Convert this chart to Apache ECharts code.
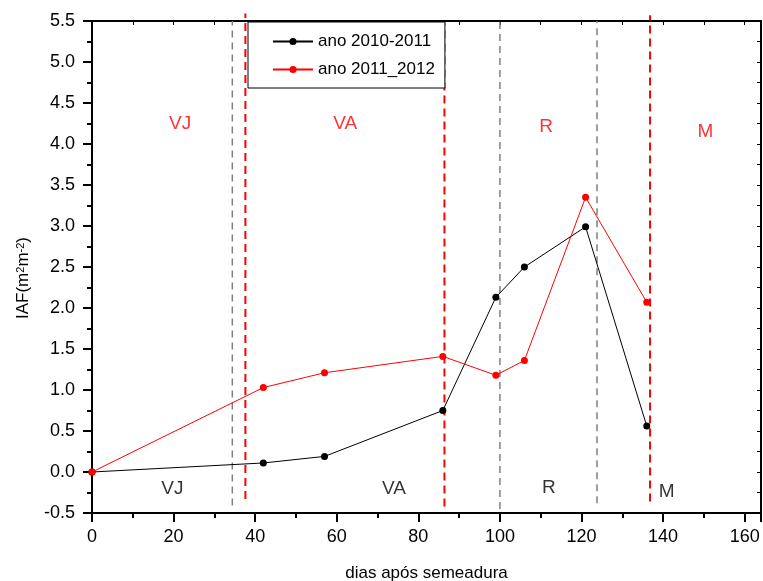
<!DOCTYPE html>
<html>
<head>
<meta charset="utf-8">
<script src="https://cdn.jsdelivr.net/npm/echarts@6/dist/echarts.min.js"></script>
<style>
  html, body { margin: 0; padding: 0; background: #fff; }
  #chart { width: 763px; height: 581px; }
</style>
</head>
<body>
<div id="chart"></div>
<script>
// dias após semeadura
var dias2010 = [0, 42, 57, 86, 99, 106, 121, 136];
var iaf2010 = [0, 0.11, 0.19, 0.75, 2.13, 2.50, 2.99, 0.56];
var dias2011 = [0, 42, 57, 86, 99, 106, 121, 136];
var iaf2011 = [0, 1.03, 1.21, 1.41, 1.18, 1.36, 3.35, 2.07];

// limites das fases (linhas verticais): [x, y inicio, y fim]
var limites2010 = [[34.4, -0.41, 5.5], [100, -0.45, 5.5], [123.8, -0.38, 5.5]];
var limites2011 = [[37.6, -0.33, 5.59], [86.4, -0.42, 5.48], [136.8, -0.36, 5.57]];

// rótulos das fases: [x, y, texto]
var fases2011 = [[21.6, 4.25, "VJ"], [62.1, 4.25, "VA"], [111.3, 4.21, "R"], [150.4, 4.15, "M"]];
var fases2010 = [[19.7, -0.21, "VJ"], [74, -0.2, "VA"], [112, -0.195, "R"], [140.9, -0.24, "M"]];

var chart = echarts.init(document.getElementById("chart"));

function zip(xs, ys) {
  return xs.map(function (x, i) { return [x, ys[i]]; });
}

function linhasVerticais(lista, cor, largura, dash) {
  return lista.map(function (l) {
    return {
      type: "line",
      data: [[l[0], l[1]], [l[0], l[2]]],
      symbol: "none",
      silent: true,
      clip: false,
      z: 1,
      lineStyle: { color: cor, width: largura, type: dash }
    };
  });
}

function rotulos(lista, cor) {
  return {
    type: "scatter",
    data: lista,
    symbolSize: 0,
    silent: true,
    clip: false,
    label: {
      show: true,
      position: "inside",
      color: cor,
      fontSize: 19,
      formatter: function (p) { return p.value[2]; }
    }
  };
}

var option = {
  animation: false,
  textStyle: { fontFamily: "Liberation Sans, Arial, sans-serif" },
  grid: { left: 92, right: 2, top: 21, bottom: 68, outerBoundsMode: "none" },
  legend: {
    orient: "vertical",
    left: 248,
    top: 22,
    data: ["ano 2010-2011", "ano 2011_2012"],
    padding: [11, 10, 10, 24],
    itemWidth: 40,
    itemHeight: 9,
    itemGap: 11,
    borderColor: "#000",
    borderWidth: 1,
    borderRadius: 0,
    backgroundColor: "#fff",
    textStyle: { fontSize: 17, color: "#000" }
  },
  xAxis: [
    {
      type: "value",
      min: 0,
      max: 164,
      interval: 20,
      name: "dias após semeadura",
      nameLocation: "middle",
      nameGap: 52,
      nameTextStyle: { fontSize: 17, color: "#000" },
      axisLine: { onZero: false, lineStyle: { color: "#000", width: 2 } },
      axisTick: { inside: false, length: 9, lineStyle: { color: "#000", width: 2 } },
      minorTick: { show: true, splitNumber: 2, length: 5, lineStyle: { color: "#000", width: 2 } },
      axisLabel: { fontSize: 18, color: "#000", margin: 15, showMaxLabel: false },
      splitLine: { show: false }
    },
    {
      type: "value",
      position: "top",
      min: 0,
      max: 164,
      interval: 10,
      axisLine: { onZero: false, lineStyle: { color: "#000", width: 2 } },
      axisTick: { inside: true, length: 4, lineStyle: { color: "#000", width: 1 } },
      axisLabel: { show: false },
      splitLine: { show: false }
    }
  ],
  yAxis: [
    {
      type: "value",
      min: -0.5,
      max: 5.5,
      interval: 0.5,
      name: "IAF(m{s|2}m{s|-2})",
      nameLocation: "middle",
      nameGap: 60,
      nameRotate: 90,
      nameTextStyle: {
        fontSize: 17,
        color: "#000",
        padding: [0, 22, 0, 0],
        rich: { s: { fontSize: 11, color: "#000", verticalAlign: "top", padding: [0, 0, 6, 0] } }
      },
      axisLine: { onZero: false, lineStyle: { color: "#000", width: 2 } },
      axisTick: { inside: false, length: 9, lineStyle: { color: "#000", width: 2 } },
      minorTick: { show: true, splitNumber: 2, length: 5, lineStyle: { color: "#000", width: 2 } },
      axisLabel: {
        fontSize: 18,
        color: "#000",
        margin: 17,
        formatter: function (v) { return v.toFixed(1); }
      },
      splitLine: { show: false }
    },
    {
      type: "value",
      position: "right",
      min: -0.5,
      max: 5.5,
      interval: 0.25,
      axisLine: { onZero: false, lineStyle: { color: "#000", width: 2 } },
      axisTick: { inside: true, length: 4, lineStyle: { color: "#000", width: 1 } },
      axisLabel: { show: false },
      splitLine: { show: false }
    }
  ],
  series: []
    .concat(linhasVerticais(limites2010, "#808080", 1.5, [7, 5]))
    .concat(linhasVerticais(limites2011, "#ff0000", 2, [8, 5]))
    .concat([
      rotulos(fases2011, "#ff0000"),
      rotulos(fases2010, "#000000"),
      {
        name: "ano 2010-2011",
        type: "line",
        data: zip(dias2010, iaf2010),
        symbol: "circle",
        symbolSize: 7,
        z: 3,
        clip: false,
        color: "#000000",
        lineStyle: { color: "#000000", width: 1 },
        itemStyle: { color: "#000000" }
      },
      {
        name: "ano 2011_2012",
        type: "line",
        data: zip(dias2011, iaf2011),
        symbol: "circle",
        symbolSize: 7,
        z: 4,
        clip: false,
        color: "#ff0000",
        lineStyle: { color: "#ff0000", width: 1 },
        itemStyle: { color: "#ff0000" }
      }
    ])
};

chart.setOption(option);
</script>
</body>
</html>
